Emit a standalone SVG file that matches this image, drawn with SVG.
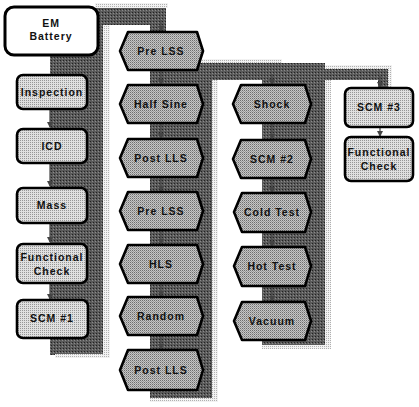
<svg xmlns="http://www.w3.org/2000/svg" width="419" height="407" viewBox="0 0 419 407">
<defs>
<pattern id="dk" width="3" height="3" patternUnits="userSpaceOnUse"><rect width="3" height="3" fill="#5a5a5a"/><rect width="1" height="1" fill="#222"/><rect x="2" y="1" width="1" height="1" fill="#8a8a8a"/></pattern>
<pattern id="lt" width="2" height="2" patternUnits="userSpaceOnUse"><rect width="2" height="2" fill="#f2f2f2"/><rect width="1" height="1" fill="#b0b0b0"/></pattern>
<pattern id="nf" width="2" height="2" patternUnits="userSpaceOnUse"><rect width="2" height="2" fill="#e0e0e0"/><rect width="1" height="1" fill="#969696"/></pattern>
<pattern id="hf" width="2" height="2" patternUnits="userSpaceOnUse"><rect width="2" height="2" fill="#c6c6c6"/><rect width="1" height="1" fill="#6e6e6e"/><rect x="1" y="1" width="1" height="1" fill="#9a9a9a"/></pattern>
<marker id="ah" viewBox="0 0 6 6" refX="5" refY="3" markerWidth="5" markerHeight="5" orient="auto"><path d="M0,0 L6,3 L0,6 z" fill="#444"/></marker>
</defs>
<style>
.dk{fill:url(#dk)}
.lt{fill:url(#lt)}
.box{fill:url(#nf);stroke:#000;stroke-width:2.6}
.hex{fill:url(#hf);stroke:#000;stroke-width:2.6;stroke-linejoin:round}
.em{fill:#fff;stroke:#000;stroke-width:3}
.t{font-family:"Liberation Sans",Arial,sans-serif;font-weight:bold;font-size:10.5px;letter-spacing:1px;fill:#111;text-anchor:middle}
.c{stroke:#444;stroke-width:1.2;fill:none;marker-end:url(#ah)}
</style>
<g id="pipes">
<rect class="lt" x="95" y="3" width="73" height="5"/>
<rect class="dk" x="50" y="8" width="53" height="347"/>
<rect class="dk" x="98" y="8" width="68" height="17"/>
<rect class="dk" x="150" y="8" width="16" height="60"/>
<rect class="lt" x="103" y="25" width="7" height="333"/>
<rect class="lt" x="55" y="354" width="55" height="4"/>
<rect class="lt" x="196" y="59" width="86" height="4"/>
<rect class="dk" x="150" y="63" width="62" height="335"/>
<rect class="dk" x="200" y="63" width="78" height="17"/>
<rect class="lt" x="212" y="80" width="6" height="322"/>
<rect class="lt" x="150" y="398" width="68" height="4"/>
<rect class="lt" x="320" y="65" width="72" height="4"/>
<rect class="dk" x="262" y="63" width="63" height="282"/>
<rect class="dk" x="325" y="69" width="63" height="11"/>
<rect class="dk" x="378" y="69" width="10" height="19"/>
<rect class="lt" x="388" y="65" width="4" height="23"/>
<rect class="lt" x="325" y="80" width="6" height="268"/>
<rect class="lt" x="262" y="345" width="69" height="4"/>
</g>
<g id="connectors">
<line class="c" x1="50" y1="110" x2="50" y2="127"/>
<line class="c" x1="50" y1="163" x2="50" y2="186"/>
<line class="c" x1="50" y1="224" x2="50" y2="242"/>
<line class="c" x1="50" y1="284" x2="50" y2="299"/>
<line class="c" x1="161" y1="20" x2="161" y2="31"/>
<line class="c" x1="161" y1="71" x2="161" y2="84"/>
<line class="c" x1="161" y1="124" x2="161" y2="138"/>
<line class="c" x1="161" y1="178" x2="161" y2="191"/>
<line class="c" x1="161" y1="231" x2="161" y2="244"/>
<line class="c" x1="161" y1="284" x2="161" y2="296"/>
<line class="c" x1="161" y1="336" x2="161" y2="349"/>
<line class="c" x1="272" y1="74" x2="272" y2="84"/>
<line class="c" x1="272" y1="124" x2="272" y2="139"/>
<line class="c" x1="272" y1="179" x2="272" y2="192"/>
<line class="c" x1="272" y1="233" x2="272" y2="246"/>
<line class="c" x1="272" y1="287" x2="272" y2="301"/>
<line class="c" x1="380" y1="76" x2="380" y2="87"/>
<line class="c" x1="380" y1="128" x2="380" y2="136"/>
</g>
<g id="n-em"><rect class="em" x="5" y="7" width="93" height="48" rx="9"/><text class="t" x="51" y="27">EM</text><text class="t" x="51" y="40">Battery</text></g>
<g id="n-inspection"><rect class="box" x="17" y="75" width="70" height="34" rx="6"/><text class="t" x="52" y="96">Inspection</text></g>
<g id="n-icd"><rect class="box" x="17" y="129" width="70" height="34" rx="6"/><text class="t" x="52" y="150">ICD</text></g>
<g id="n-mass"><rect class="box" x="17" y="188" width="70" height="35" rx="6"/><text class="t" x="52" y="209">Mass</text></g>
<g id="n-func1"><rect class="box" x="17" y="244" width="70" height="39" rx="6"/><text class="t" x="52" y="261">Functional</text><text class="t" x="52" y="275">Check</text></g>
<g id="n-scm1"><rect class="box" x="17" y="300" width="71" height="38" rx="6"/><text class="t" x="52" y="322">SCM #1</text></g>
<g id="n-prelss1"><path class="hex" d="M128,32 H197 L203,51 L197,70 H128 L120,51 Z"/><text class="t" x="161" y="55">Pre LSS</text></g>
<g id="n-halfsine"><path class="hex" d="M128,85 H197 L203,104 L197,123 H128 L120,104 Z"/><text class="t" x="161" y="108">Half Sine</text></g>
<g id="n-postlls1"><path class="hex" d="M128,139 H197 L203,158 L197,177 H128 L120,158 Z"/><text class="t" x="161" y="162">Post LLS</text></g>
<g id="n-prelss2"><path class="hex" d="M128,192 H197 L203,211 L197,230 H128 L120,211 Z"/><text class="t" x="161" y="215">Pre LSS</text></g>
<g id="n-hls"><path class="hex" d="M128,245 H197 L203,264 L197,283 H128 L120,264 Z"/><text class="t" x="161" y="268">HLS</text></g>
<g id="n-random"><path class="hex" d="M128,297 H197 L203,316 L197,335 H128 L120,316 Z"/><text class="t" x="161" y="320">Random</text></g>
<g id="n-postlls2"><path class="hex" d="M128,350 H197 L203,370 L197,390 H128 L120,370 Z"/><text class="t" x="161" y="374">Post LLS</text></g>
<g id="n-shock"><path class="hex" d="M241,85 H305 L311,104 L305,123 H241 L233,104 Z"/><text class="t" x="272" y="108">Shock</text></g>
<g id="n-scm2"><path class="hex" d="M241,140 H305 L311,159 L305,178 H241 L233,159 Z"/><text class="t" x="272" y="163">SCM #2</text></g>
<g id="n-cold"><path class="hex" d="M242,193 H305 L311,212 L305,232 H242 L234,212 Z"/><text class="t" x="272" y="216">Cold Test</text></g>
<g id="n-hot"><path class="hex" d="M242,247 H305 L311,266 L305,286 H242 L234,266 Z"/><text class="t" x="272" y="270">Hot Test</text></g>
<g id="n-vacuum"><path class="hex" d="M242,302 H305 L311,321 L305,340 H242 L234,321 Z"/><text class="t" x="272" y="325">Vacuum</text></g>
<g id="n-scm3"><rect class="box" x="345" y="88" width="68" height="39" rx="6"/><text class="t" x="379" y="111">SCM #3</text></g>
<g id="n-func2"><rect class="box" x="345" y="137" width="68" height="44" rx="6"/><text class="t" x="379" y="156">Functional</text><text class="t" x="379" y="170">Check</text></g>
</svg>
